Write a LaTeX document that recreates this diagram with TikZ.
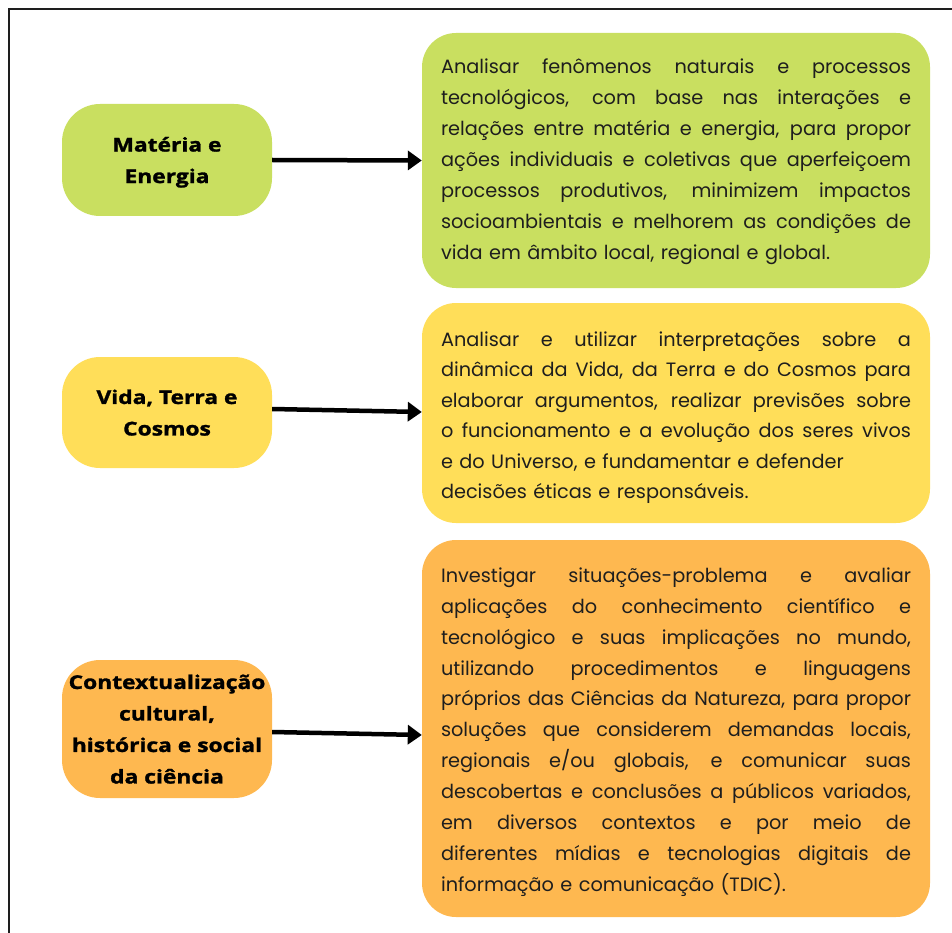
\documentclass[tikz,border=0pt]{standalone}
\usepackage{fontspec}
\setmainfont{Poppins}
\newfontfamily\labelfont[BoldFeatures={FakeStretch=1.2,FakeBold=1.5}]{Open Sans}
\usetikzlibrary{arrows.meta}

\definecolor{limegreen}{RGB}{201,223,96}
\definecolor{sunyellow}{RGB}{255,222,89}
\definecolor{warmorange}{RGB}{254,184,80}
\definecolor{inkdark}{RGB}{30,30,30}

% one justified line of a description box: spaces share the extra room
\newcommand{\jline}[1]{\leavevmode\hbox to 470pt{\spaceskip=\fontdimen2\font plus 1fil\relax #1}}
% first justified line, with extra head room above it
\newcommand{\jfirst}[2]{\leavevmode\raisebox{0pt}[\dimexpr\height+#1\relax]{\jline{#2}}}

\begin{document}
\begin{tikzpicture}[x=1pt,y=-1pt,
  topic/.style={rounded corners=38pt, minimum width=210pt, align=center,
    inner sep=0pt, text depth=0pt, font=\labelfont\bfseries\fontsize{19}{31.5}\selectfont},
  detail/.style={rounded corners=34pt, minimum width=508pt, text width=470pt,
    align=left, inner sep=0pt, text=inkdark},
  link/.style={-{Triangle[length=14pt,width=19pt]}, line width=4.5pt}]
\useasboundingbox (0,0) rectangle (952,933);

% frame
\draw[line width=2.5pt, inkdark] (9,933) -- (9,9) -- (952,9);

% topics
\node[topic, fill=limegreen, minimum height=112pt] (t1) at (167,160) {Matéria e\\Energia};
\node[topic, fill=sunyellow, minimum height=111pt] (t2) at (167,412.5) {Vida, Terra e\\Cosmos};
\node[topic, fill=warmorange, minimum height=138pt] (t3) at (167,729) {Contextualização\\cultural,\\histórica e social\\da ciência};

% descriptions
\node[detail, fill=limegreen, minimum height=255pt, font=\fontsize{19.3}{31}\selectfont] (d1) at (676,160.5) {%
\jfirst{2pt}{Analisar fenômenos naturais e processos}\\
\jline{tecnológicos, com base nas interações e}\\
\jline{relações entre matéria e energia, para propor}\\
\jline{ações individuais e coletivas que aperfeiçoem}\\
\jline{processos produtivos, minimizem impactos}\\
\jline{socioambientais e melhorem as condições de}\\
vida em âmbito local, regional e global.};

\node[detail, fill=sunyellow, minimum height=220pt, font=\fontsize{19.3}{30.5}\selectfont] (d2) at (676,413) {%
\jfirst{9pt}{Analisar e utilizar interpretações sobre a}\\
\jline{dinâmica da Vida, da Terra e do Cosmos para}\\
\jline{elaborar argumentos, realizar previsões sobre}\\
\jline{o funcionamento e a evolução dos seres vivos}\\
e do Universo, e fundamentar e defender\\
decisões éticas e responsáveis.};

\node[detail, fill=warmorange, minimum height=377pt, font=\fontsize{19.3}{30.9}\selectfont] (d3) at (676,728.5) {%
\jfirst{7pt}{Investigar situações-problema e avaliar}\\
\jline{aplicações do conhecimento científico e}\\
\jline{tecnológico e suas implicações no mundo,}\\
\jline{utilizando procedimentos e linguagens}\\
\jline{próprios das Ciências da Natureza, para propor}\\
\jline{soluções que considerem demandas locais,}\\
\jline{regionais e/ou globais, e comunicar suas}\\
\jline{descobertas e conclusões a públicos variados,}\\
\jline{em diversos contextos e por meio de}\\
\jline{diferentes mídias e tecnologias digitais de}\\
informação e comunicação (TDIC).};

% connectors
\draw[link] (t1.east) -- (d1.west);
\draw[link] ([yshift=3.5pt]t2.east) -- ([yshift=1pt]d2.west);
\draw[link] ([yshift=-3pt]t3.east) -- ([yshift=-6.5pt]d3.west);
\end{tikzpicture}
\end{document}
